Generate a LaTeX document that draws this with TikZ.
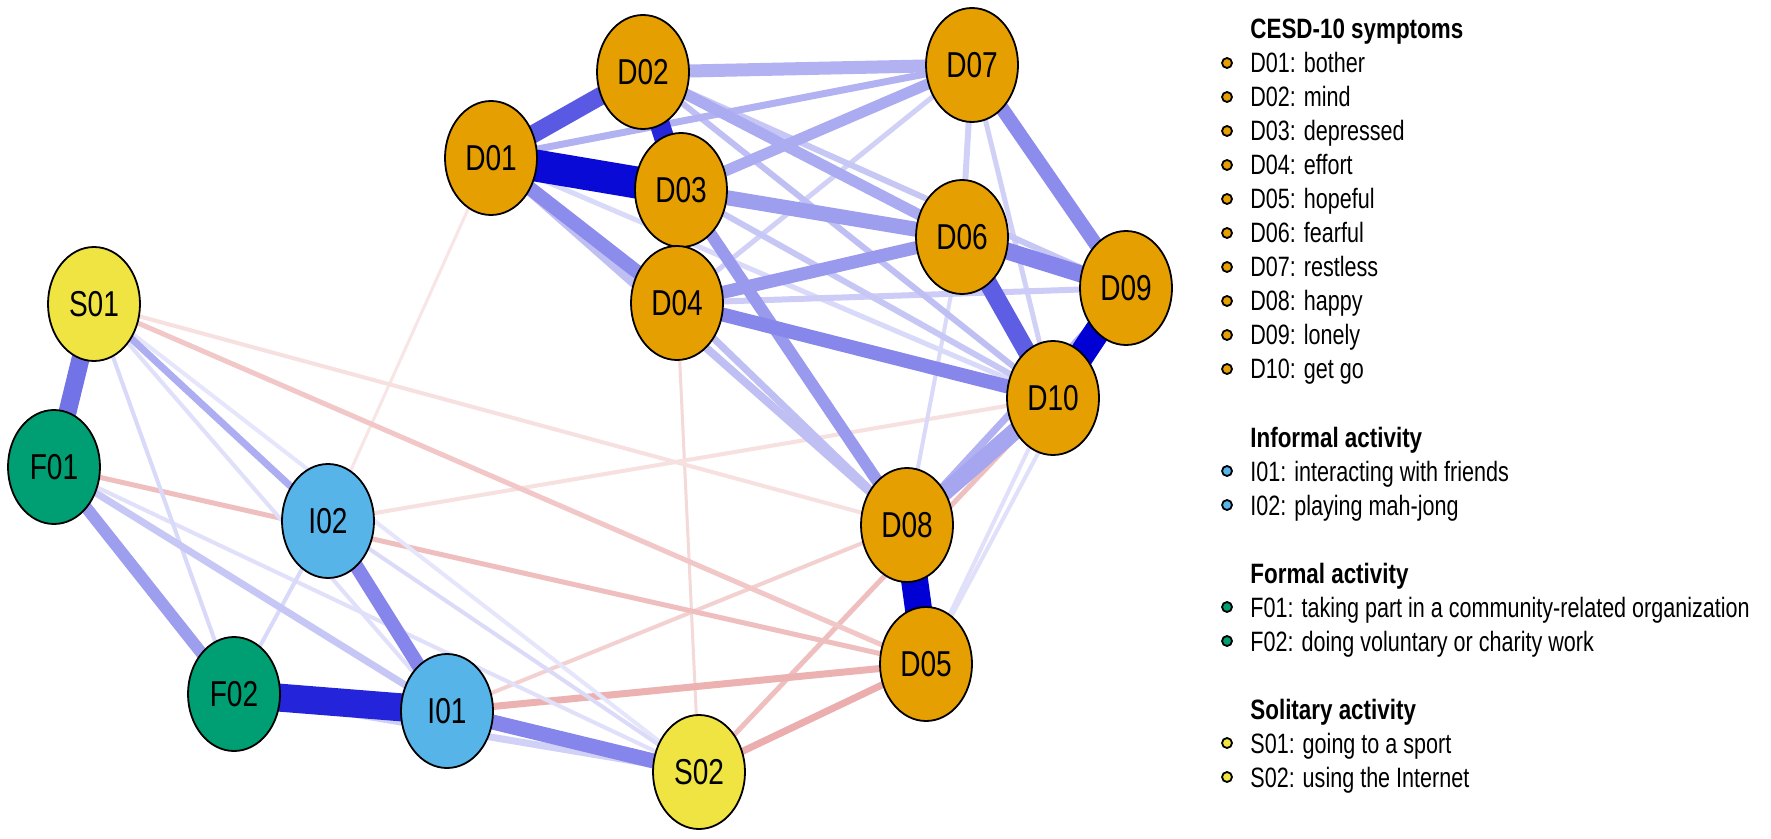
\documentclass[tikz,border=0pt]{standalone}
\usepackage{fontspec}
\setmainfont{Liberation Sans}
\usetikzlibrary{shapes.geometric,backgrounds}
\definecolor{dcol}{HTML}{E69F00}
\definecolor{icol}{HTML}{56B4E9}
\definecolor{fcol}{HTML}{009E73}
\definecolor{scol}{HTML}{F0E442}
\definecolor{posc}{RGB}{0,0,213}
\definecolor{negc}{RGB}{191,0,0}
\newcommand\nlab[1]{\scalebox{0.78}[1]{#1}}
\newcommand\leglab[1]{\scalebox{0.77}[1]{#1}}
\newcommand\leghead[1]{\scalebox{0.8}[1]{#1}}
\newcommand\legitem[4]{\node[bul, fill=#3] (b#1) at (1227,#2) {};
  \node[legt] (t#1) at (1250,#2+10) {\leglab{#4}};}
\begin{document}
\begin{tikzpicture}[x=0.5pt,y=-0.5pt,
  nd/.style={ellipse, draw=black, line width=0.9pt, minimum width=46pt, minimum height=57pt, inner sep=0pt, font=\fontsize{18}{20}\selectfont},
  pe/.style 2 args={draw=posc!#2!white, line width=#1},
  ne/.style 2 args={draw=negc!#2!white, line width=#1},
  bul/.style={circle, draw=black, line width=0.9pt, minimum size=5pt, inner sep=0pt},
  legt/.style={anchor=base west, inner sep=0pt, font=\fontsize{14}{16}\selectfont},
  legh/.style={anchor=base west, inner sep=0pt, font=\fontsize{14}{16}\selectfont\bfseries}]
\useasboundingbox (0,0) rectangle (1771,839);

% nodes
\node[nd, fill=dcol] (D01) at (491,158) {\nlab{D01}};
\node[nd, fill=dcol] (D02) at (643,72) {\nlab{D02}};
\node[nd, fill=dcol] (D03) at (681,190) {\nlab{D03}};
\node[nd, fill=dcol] (D04) at (677,303) {\nlab{D04}};
\node[nd, fill=dcol] (D05) at (926,664) {\nlab{D05}};
\node[nd, fill=dcol] (D06) at (962,237) {\nlab{D06}};
\node[nd, fill=dcol] (D07) at (972,65) {\nlab{D07}};
\node[nd, fill=dcol] (D08) at (907,525) {\nlab{D08}};
\node[nd, fill=dcol] (D09) at (1126,288) {\nlab{D09}};
\node[nd, fill=dcol] (D10) at (1053,398) {\nlab{D10}};
\node[nd, fill=scol] (S01) at (94,304) {\nlab{S01}};
\node[nd, fill=fcol] (F01) at (54,467) {\nlab{F01}};
\node[nd, fill=icol] (I02) at (328,521) {\nlab{I02}};
\node[nd, fill=fcol] (F02) at (234,694) {\nlab{F02}};
\node[nd, fill=icol] (I01) at (447,711) {\nlab{I01}};
\node[nd, fill=scol] (S02) at (699,772) {\nlab{S02}};

\begin{pgfonlayer}{background}
\fill[white] (0,0) rectangle (1771,839);
% negative edges
\draw[ne={1.5pt}{10}] (D01.center) -- (I02.center);
\draw[ne={1.5pt}{15}] (D04.center) -- (S02.center);
\draw[ne={2pt}{12}] (I02.center) -- (D10.center);
\draw[ne={2pt}{12}] (S01.center) -- (D08.center);
\draw[ne={2pt}{18}] (I01.center) -- (D08.center);
\draw[ne={2.5pt}{25}] (S02.center) -- (D10.center);
\draw[ne={2.5pt}{22}] (S01.center) -- (D05.center);
\draw[ne={2.5pt}{25}] (F01.center) -- (D05.center);
\draw[ne={3.5pt}{30}] (I01.center) -- (D05.center);
\draw[ne={3.5pt}{32}] (S02.center) -- (D05.center);
% weak positive edges
\draw[pe={2pt}{10}] (S01.center) -- (S02.center);
\draw[pe={2pt}{12}] (S01.center) -- (I01.center);
\draw[pe={2pt}{12}] (F01.center) -- (S02.center);
\draw[pe={2pt}{15}] (S01.center) -- (F02.center);
\draw[pe={2pt}{15}] (I02.center) -- (F02.center);
\draw[pe={2pt}{14}] (I02.center) -- (S02.center);
\draw[pe={2pt}{15}] (D06.center) -- (D08.center);
\draw[pe={2pt}{12}] (D05.center) -- (D10.center);
\draw[pe={2pt}{12}] (D05.center) -- (D09.center);
\draw[pe={2.5pt}{15}] (D01.center) -- (D10.center);
\draw[pe={2.5pt}{18}] (D04.center) -- (D07.center);
\draw[pe={3pt}{18}] (D06.center) -- (D07.center);
\draw[pe={2.5pt}{18}] (D07.center) -- (D10.center);
\draw[pe={3pt}{20}] (D04.center) -- (D09.center);
\draw[pe={3pt}{22}] (D03.center) -- (D10.center);
\draw[pe={3pt}{25}] (D02.center) -- (D10.center);
\draw[pe={3pt}{22}] (D02.center) -- (D09.center);
\draw[pe={3.5pt}{25}] (D04.center) -- (D08.center);
\draw[pe={4pt}{25}] (D01.center) -- (D08.center);
\draw[pe={3.5pt}{30}] (D01.center) -- (D07.center);
\draw[pe={3.5pt}{18}] (F02.center) -- (S02.center);
\draw[pe={3.5pt}{22}] (F01.center) -- (I01.center);
\draw[pe={3.5pt}{32}] (S01.center) -- (I02.center);
\draw[pe={3.5pt}{30}] (D08.center) -- (D09.center);
% medium positive edges
\draw[pe={6.5pt}{30}] (D02.center) -- (D07.center);
\draw[pe={5.5pt}{33}] (D03.center) -- (D07.center);
\draw[pe={5.5pt}{33}] (D02.center) -- (D06.center);
\draw[pe={6pt}{40}] (D03.center) -- (D08.center);
\draw[pe={6.5pt}{40}] (D04.center) -- (D06.center);
\draw[pe={7.5pt}{38}] (D03.center) -- (D06.center);
\draw[pe={8.5pt}{35}] (D08.center) -- (D10.center);
\draw[pe={6pt}{38}] (F01.center) -- (F02.center);
\draw[pe={7pt}{45}] (D01.center) -- (D04.center);
\draw[pe={7pt}{45}] (D07.center) -- (D09.center);
\draw[pe={7pt}{47}] (D04.center) -- (D10.center);
\draw[pe={7pt}{48}] (I02.center) -- (I01.center);
\draw[pe={7.5pt}{48}] (I01.center) -- (S02.center);
\draw[pe={8.5pt}{48}] (D06.center) -- (D09.center);
\draw[pe={9pt}{55}] (S01.center) -- (F01.center);
% strong positive edges
\draw[pe={6pt}{70}] (D03.center) -- (D04.center);
\draw[pe={9pt}{65}] (D01.center) -- (D02.center);
\draw[pe={9pt}{63}] (D06.center) -- (D10.center);
\draw[pe={10pt}{85}] (D02.center) -- (D03.center);
\draw[pe={14pt}{86}] (F02.center) -- (I01.center);
\draw[pe={13.5pt}{100}] (D05.center) -- (D08.center);
\draw[pe={13pt}{100}] (D09.center) -- (D10.center);
\draw[pe={16pt}{96}] (D01.center) -- (D03.center);
\end{pgfonlayer}

% legend
\node[legh] (hC) at (1250,39) {\leghead{CESD-10 symptoms}};
\legitem{D01}{63}{dcol}{D01: bother}
\legitem{D02}{97}{dcol}{D02: mind}
\legitem{D03}{131}{dcol}{D03: depressed}
\legitem{D04}{165}{dcol}{D04: effort}
\legitem{D05}{199}{dcol}{D05: hopeful}
\legitem{D06}{233}{dcol}{D06: fearful}
\legitem{D07}{267}{dcol}{D07: restless}
\legitem{D08}{301}{dcol}{D08: happy}
\legitem{D09}{335}{dcol}{D09: lonely}
\legitem{D10}{369}{dcol}{D10: get go}
\node[legh] (hI) at (1250,447) {\leghead{Informal activity}};
\legitem{I01}{471}{icol}{I01: interacting with friends}
\legitem{I02}{505}{icol}{I02: playing mah-jong}
\node[legh] (hF) at (1250,583) {\leghead{Formal activity}};
\legitem{F01}{607}{fcol}{F01: taking part in a community-related organization}
\legitem{F02}{641}{fcol}{F02: doing voluntary or charity work}
\node[legh] (hS) at (1250,719) {\leghead{Solitary activity}};
\legitem{S01}{743}{scol}{S01: going to a sport}
\legitem{S02}{777}{scol}{S02: using the Internet}
\end{tikzpicture}
\end{document}
